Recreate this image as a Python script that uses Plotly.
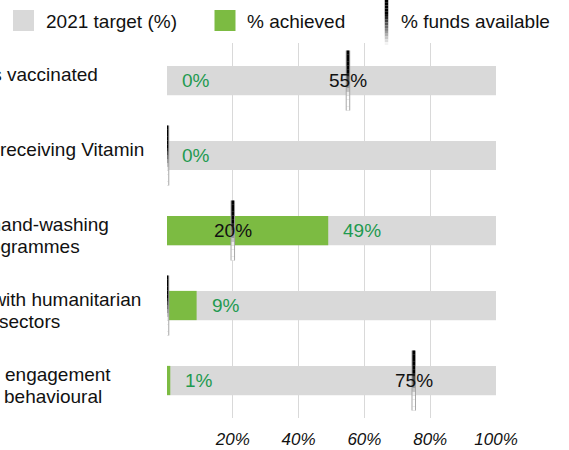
import plotly.graph_objects as go

# ==================== data ====================
CATEGORY_LINES = [
    ["Frontline health workers vaccinated"],
    ["Children 6-59 months receiving Vitamin"],
    ["Schools with functional hand-washing", "programmes"],
    ["People reached with humanitarian", "sectors"],
    ["engagement", "behavioural"],
]
TARGET = [1.0, 1.0, 1.0, 1.0, 1.0]
ACHIEVED = [0.00, 0.00, 0.49, 0.09, 0.01]
FUNDS = [0.55, 0.00, 0.20, 0.00, 0.75]

TICK_VALS = [0, 0.2, 0.4, 0.6, 0.8, 1.0]
TICK_TEXT = ["", "20%", "40%", "60%", "80%", "100%"]

LEGEND_NAMES = ["2021 target (%)", "% achieved", "% funds available"]
# ==============================================

W, H = 569, 450
ML, MR, MT, MB = 167, 72, 43, 32
PW, PH = W - ML - MR, H - MT - MB

GREY = "#d9d9d9"
GREEN = "#7cbb42"
LABEL_GREEN = "#1f9a50"
FONT = "Liberation Sans, Arial, sans-serif"

# where each visible label line ends on the left (px) and its vertical shift
LINE_RIGHT = [[100], [146], [111, 82], [143, 62], [113, 104]]
LINE_SHIFT = [6, -16]


def px_x(px):
    return (px - ML) / PW


def px_y(py):
    return (H - MB - py) / PH


def grad(t, start, span):
    v = int(255 * min(max((t - start) / span, 0), 1))
    return f"rgb({v},{v},{v})"


ypos = list(range(len(CATEGORY_LINES)))

fig = go.Figure()

fig.add_trace(go.Bar(
    y=ypos, x=TARGET, orientation="h", width=0.39,
    marker=dict(color=GREY, line_width=0), name=LEGEND_NAMES[0],
    showlegend=False, hoverinfo="skip",
))
fig.add_trace(go.Bar(
    y=ypos, x=ACHIEVED, orientation="h", width=0.39,
    marker=dict(color=GREEN, line_width=0), name=LEGEND_NAMES[1],
    showlegend=False, hoverinfo="skip",
))

# funds markers: gray outline + a black-to-white gradient inside
half = 0.4
xs, ys = [], []
for i, f in enumerate(FUNDS):
    xs += [f, f, None]
    ys += [i - half, i + half, None]
fig.add_trace(go.Scatter(x=xs, y=ys, mode="lines", line=dict(color="#a3a3a3", width=4.5),
                         showlegend=False, hoverinfo="skip"))

NSEG = 16
for s in range(NSEG):
    t0, t1 = s / NSEG, (s + 1) / NSEG
    sx, sy = [], []
    for i, f in enumerate(FUNDS):
        sx += [f, f, None]
        sy += [i - half + 2 * half * t0, i - half + 2 * half * t1, None]
    fig.add_trace(go.Scatter(x=sx, y=sy, mode="lines",
                             line=dict(color=grad((t0 + t1) / 2, 0.35, 0.4), width=2.6),
                             showlegend=False, hoverinfo="skip"))

annotations = []

# achieved labels (green) and funds labels (black)
for i, a in enumerate(ACHIEVED):
    annotations.append(dict(
        x=a, y=i, xref="x", yref="y", text=f"{round(a * 100)}%", showarrow=False,
        xanchor="left", yanchor="middle", xshift=13,
        font=dict(family=FONT, size=19, color=LABEL_GREEN),
    ))
for i, f in enumerate(FUNDS):
    if f > 0:
        annotations.append(dict(
            x=f, y=i, xref="x", yref="y", text=f"{round(f * 100)}%", showarrow=False,
            xanchor="center", yanchor="middle",
            font=dict(family=FONT, size=19, color="#111111"),
        ))

# category labels (clipped on the left, as in the original)
for i, lines in enumerate(CATEGORY_LINES):
    for j, line in enumerate(lines):
        annotations.append(dict(
            x=0, y=i, xref="paper", yref="y", text=line, showarrow=False,
            xanchor="right", yanchor="middle",
            xshift=LINE_RIGHT[i][j] - ML, yshift=LINE_SHIFT[j],
            font=dict(family=FONT, size=19, color="#111111"),
        ))

# legend drawn by hand
shapes = []
legend_items = [(13, GREY, 44), (214.5, GREEN, 244.5)]
for (sx0, col, tx), name in zip(legend_items, LEGEND_NAMES[:2]):
    shapes.append(dict(type="rect", xref="paper", yref="paper",
                       x0=px_x(sx0), x1=px_x(sx0 + 21), y0=px_y(31), y1=px_y(10),
                       fillcolor=col, line_width=0))
    annotations.append(dict(x=px_x(tx), y=px_y(21), xref="paper", yref="paper",
                            text=name, showarrow=False, xanchor="left", yanchor="middle",
                            font=dict(family=FONT, size=19, color="#111111")))
for s in range(NSEG):
    t0, t1 = s / NSEG, (s + 1) / NSEG
    shapes.append(dict(type="line", xref="paper", yref="paper",
                       x0=px_x(386.5), x1=px_x(386.5), y0=px_y(45 * t0), y1=px_y(45 * t1),
                       line=dict(color=grad((t0 + t1) / 2, 0.3, 0.7), width=3.5)))
annotations.append(dict(x=px_x(399), y=px_y(21), xref="paper", yref="paper",
                        text=LEGEND_NAMES[2], showarrow=False, xanchor="left", yanchor="middle",
                        font=dict(family=FONT, size=19, color="#111111")))

fig.update_layout(
    width=W, height=H,
    margin=dict(l=ML, r=MR, t=MT, b=MB, pad=0),
    barmode="overlay",
    plot_bgcolor="white", paper_bgcolor="white",
    showlegend=False,
    annotations=annotations,
    shapes=shapes,
    xaxis=dict(
        range=[0, 1.003], tickvals=TICK_VALS, ticktext=TICK_TEXT,
        showgrid=True, gridcolor=GREY, gridwidth=1, zeroline=False,
        showline=False, ticks="", ticklabelstandoff=9, automargin=False,
        tickfont=dict(family=FONT, size=17, color="#111111", style="italic"),
    ),
    yaxis=dict(
        range=[len(ypos) - 0.5, -0.5], showticklabels=False, showgrid=False,
        zeroline=False, showline=False, ticks="", automargin=False,
    ),
)

# the page's default 8px body margin would push the chart off its window
fig.write_html("out.html", config={"displayModeBar": False},
               post_script="document.body.style.margin='0';")
